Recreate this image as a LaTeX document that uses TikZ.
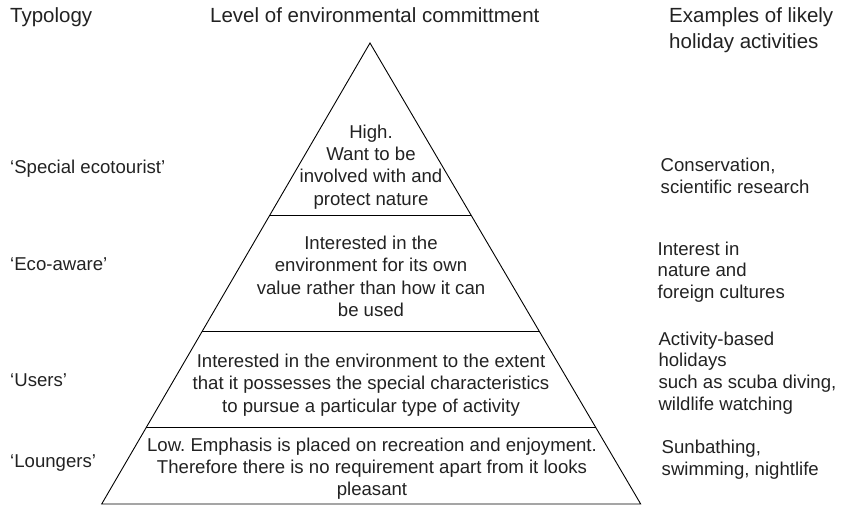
\documentclass[tikz,border=0pt]{standalone}
\usepackage{fontspec}
\setmainfont{Liberation Sans}
\usetikzlibrary{calc}
\frenchspacing
\definecolor{ink}{HTML}{222222}
\newcommand{\bodyfont}{\fontsize{18.6}{22.3}\selectfont}
\newcommand{\headfont}{\fontsize{20.5}{25}\selectfont}
\tikzset{
  lbl/.style={inner sep=0pt, anchor=base west, font=\bodyfont, text=ink},
  hdr/.style={inner sep=0pt, anchor=base west, font=\headfont, text=ink},
  tier/.style={inner sep=0pt, anchor=base, font=\bodyfont, text=ink},
  edge/.style={draw=black, line width=0.9pt, line join=miter}
}
\begin{document}
\begin{tikzpicture}[x=1pt,y=-1pt]
\useasboundingbox (0,0) rectangle (849,506);
% pyramid
\coordinate (A) at (370,43);
\coordinate (L) at (101.7,504);
\coordinate (R) at (640.7,504);
\draw[edge] (A) -- (L) -- (R) -- cycle;
\coordinate (l1) at ($(A)!0.3742!(L)$);
\coordinate (r1) at ($(A)!0.3742!(R)$);
\coordinate (l2) at ($(A)!0.6262!(L)$);
\coordinate (r2) at ($(A)!0.6262!(R)$);
\coordinate (l3) at ($(A)!0.8336!(L)$);
\coordinate (r3) at ($(A)!0.8336!(R)$);
\draw[edge] (l1) -- (r1);
\draw[edge] (l2) -- (r2);
\draw[edge] (l3) -- (r3);
% headers
\node[hdr] (h1) at (10,22.7) {Typology};
\node[hdr] (h2) at (210,22.7) {Level of environmental committment};
\node[hdr] (h3a) at (669,22.7) {Examples of likely};
\node[hdr] (h3b) at (669,48) {holiday activities};
% tier 1
\node[tier] (t1a) at (371,138.3) {High.};
\node[tier] (t1b) at (371,160.5) {Want to be};
\node[tier] (t1c) at (371,182.8) {involved with and};
\node[tier] (t1d) at (371,205) {protect nature};
% tier 2
\node[tier] (t2a) at (371,249.3) {Interested in the};
\node[tier] (t2b) at (371,271.7) {environment for its own};
\node[tier] (t2c) at (371,294.1) {value rather than how it can};
\node[tier] (t2d) at (371,316.5) {be used};
% tier 3
\node[tier] (t3a) at (371,367.3) {Interested in the environment to the extent};
\node[tier] (t3b) at (371,389.8) {that it possesses the special characteristics};
\node[tier] (t3c) at (371,412.3) {to pursue a particular type of activity};
% tier 4
\node[tier] (t4a) at (372,451.5) {Low. Emphasis is placed on recreation and enjoyment.};
\node[tier] (t4b) at (372,473.7) {Therefore there is no requirement apart from it looks};
\node[tier] (t4c) at (372,495.9) {pleasant};
% typology labels
\node[lbl] (p1) at (10,173.3) {‘Special ecotourist’};
\node[lbl] (p2) at (10,270.7) {‘Eco-aware’};
\node[lbl] (p3) at (10,386.7) {‘Users’};
\node[lbl] (p4) at (10,467.3) {‘Loungers’};
% activities
\node[lbl] (e1a) at (660.5,171.7) {Conservation,};
\node[lbl] (e1b) at (660.5,193.5) {scientific research};
\node[lbl] (e2a) at (657.5,255) {Interest in};
\node[lbl] (e2b) at (657.5,276.8) {nature and};
\node[lbl] (e2c) at (657.5,298.6) {foreign cultures};
\node[lbl] (e3a) at (658.3,345) {Activity-based};
\node[lbl] (e3b) at (658.3,366.8) {holidays};
\node[lbl] (e3c) at (658.3,388.6) {such as scuba diving,};
\node[lbl] (e3d) at (658.3,410.4) {wildlife watching};
\node[lbl] (e4a) at (661.5,453.3) {Sunbathing,};
\node[lbl] (e4b) at (661.5,475.5) {swimming, nightlife};
\end{tikzpicture}
\end{document}
